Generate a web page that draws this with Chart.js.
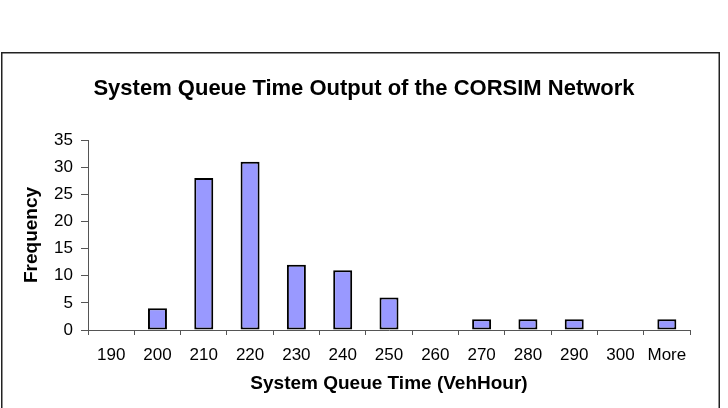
<!DOCTYPE html>
<html>
<head>
<meta charset="utf-8">
<script src="https://cdn.jsdelivr.net/npm/chart.js@4/dist/chart.umd.min.js"></script>
<style>
  html, body { margin: 0; padding: 0; background: #fff; }
  canvas { display: block; }
</style>
</head>
<body>
<canvas id="histChart" width="728" height="408"></canvas>
<script>
var bins = ['190', '200', '210', '220', '230', '240', '250', '260', '270', '280', '290', '300', 'More'];
var frequency = [0, 4, 28, 31, 12, 11, 6, 0, 2, 2, 2, 0, 2];
var yTicks = [0, 5, 10, 15, 20, 25, 30, 35];

var fontFamily = "'Liberation Sans', Arial, sans-serif";

// outer frame like the Excel chart area
var framePlugin = {
    id: 'frame',
    afterDraw: function(chart) {
        var ctx = chart.ctx;
        ctx.save();
        ctx.strokeStyle = '#222';
        ctx.lineWidth = 1.5;
        ctx.strokeRect(1.75, 52.75, 717.5, 380);
        ctx.restore();
    }
};

var ctxHist = document.getElementById('histChart').getContext('2d');
var histChart = new Chart(ctxHist, {
    type: 'bar',
    data: {
        labels: bins,
        datasets: [{
            label: 'Frequency',
            data: frequency,
            backgroundColor: '#9999ff',
            borderColor: '#000',
            borderWidth: 2,
            borderSkipped: false,
            barPercentage: 0.41,
            categoryPercentage: 1
        }]
    },
    options: {
        responsive: false,
        animation: false,
        layout: { padding: 0 },
        plugins: {
            legend: { display: false },
            tooltip: { enabled: false },
            title: {
                display: true,
                text: 'System Queue Time Output of the CORSIM Network',
                color: '#000',
                font: { family: fontFamily, size: 22, weight: 'bold' },
                padding: { top: 75.3, bottom: 38.3 }
            }
        },
        scales: {
            x: {
                grid: { display: true, drawOnChartArea: false, offset: true, tickLength: 5, color: '#555' },
                border: { display: true, color: '#555', width: 1 },
                ticks: { color: '#000', padding: 10, maxRotation: 0, font: { family: fontFamily, size: 17 } },
                title: {
                    display: true,
                    text: 'System Queue Time (VehHour)',
                    color: '#000',
                    font: { family: fontFamily, size: 19, weight: 'bold' },
                    padding: { top: 4, bottom: 12.6 }
                },
                afterFit: function(scale) { scale.height = 78; }
            },
            y: {
                min: 0,
                max: 35,
                grid: { display: true, drawOnChartArea: false, tickLength: 7, color: '#555' },
                border: { display: true, color: '#555', width: 1 },
                ticks: { color: '#000', padding: 8, font: { family: fontFamily, size: 17 } },
                afterBuildTicks: function(scale) {
                    scale.ticks = yTicks.map(function(v) { return { value: v }; });
                },
                title: {
                    display: true,
                    text: 'Frequency',
                    color: '#000',
                    font: { family: fontFamily, size: 19, weight: 'bold' },
                    padding: { top: 20.6, bottom: 4 }
                },
                afterFit: function(scale) { scale.width = 88; }
            },
            // empty right-hand strip so the plot ends at x=690 while the title stays centred on the canvas
            yRight: {
                position: 'right',
                display: true,
                grid: { display: false },
                border: { display: false },
                ticks: { display: false },
                afterFit: function(scale) { scale.width = 38; }
            }
        }
    },
    plugins: [framePlugin]
});
</script>
</body>
</html>
